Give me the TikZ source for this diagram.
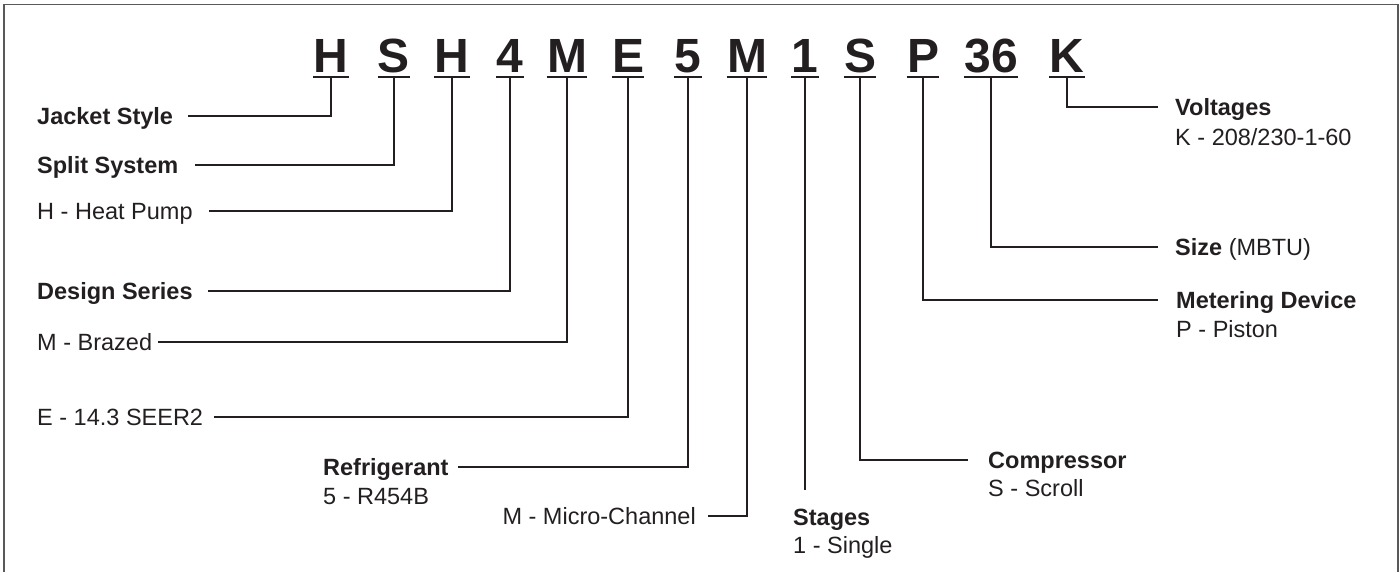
\documentclass[tikz,border=0pt]{standalone}
\usepackage{fontspec}
\setmainfont{Liberation Sans}
\usetikzlibrary{positioning,calc}
\definecolor{ink}{HTML}{231F20}
\tikzset{code/.style={font=\fontsize{48}{50}\selectfont\bfseries, text=ink, inner xsep=0pt, inner ysep=4pt, text depth=0pt, anchor=base}} % one position of the model number
\tikzset{title/.style={font=\fontsize{23.5}{28}\selectfont\bfseries, text=ink, inner sep=0pt, text height=16.8pt, text depth=0pt}} % bold heading
\tikzset{val/.style={title, font=\fontsize{23.5}{28}\selectfont}} % plain value line
\tikzset{lead/.style={draw=ink, line width=1.6pt}} % leader lines
\begin{document}
\begin{tikzpicture}[x=1pt, y=-1pt] % coordinates are pixels, y runs down
\useasboundingbox (0,0) rectangle (1400,572);
\draw[gray!70!black, line width=1.3pt] (4,580) -- (4,4.5) -- (1398,4.5) -- (1398,580); % frame, open at the bottom
% the model number
\foreach \x/\t/\n in {331/H/m1, 394/S/m2, 452/H/m3, 510/4/m4, 567/M/m5, 628/E/m6, 688/5/m7, 747/M/m8, 805/1/m9, 860/S/m10, 923/P/m11, 991/36/m12, 1067/K/m13}
  {\node[code] (\n) at (\x,73) {\t};
   \draw[lead] (\n.south west) -- (\n.south east);}
% labels on the left
\node[title, anchor=west] (jacket) at (37,116) {Jacket Style};
\node[title, anchor=west] (split) at (37,165) {Split System};
\node[val, anchor=west] (heat) at (37,211) {H - Heat Pump};
\node[title, anchor=west] (design) at (37,291) {Design Series};
\node[val, anchor=west] (brazed) at (37,342) {M - Brazed};
\node[val, anchor=west] (seer) at (37,417) {E - 14.3 SEER2};
\node[title, anchor=west] (refr) at (323,467) {Refrigerant};
\node[val, below right=12.2pt and 0pt of refr.south west] (refrval) {5 - R454B};
\node[val, anchor=east] (micro) at (696,516) {M - Micro-Channel};
\node[title, anchor=west] (stages) at (793,517) {Stages};
\node[val, below right=11.2pt and 0pt of stages.south west] (stagesval) {1 - Single};
% labels on the right
\node[title, anchor=west] (comp) at (988,460) {Compressor};
\node[val, below right=11.2pt and 0pt of comp.south west] (compval) {S - Scroll};
\node[title, anchor=west] (meter) at (1176,300) {Metering Device};
\node[val, below right=12.2pt and 0pt of meter.south west] (meterval) {P - Piston};
\node[title, anchor=west] (size) at (1175,247) {Size \mdseries(MBTU)};
\node[title, anchor=west] (volt) at (1175,107) {Voltages};
\node[val, below right=13.2pt and 0pt of volt.south west] (voltval) {K - 208/230-1-60};
% leaders
\draw[lead, shorten >=15pt] (m1.south) |- (jacket.east);
\draw[lead, shorten >=17pt] (m2.south) |- (split.east);
\draw[lead, shorten >=16pt] (m3.south) |- (heat.east);
\draw[lead, shorten >=15pt] (m4.south) |- (design.east);
\draw[lead, shorten >=6pt] (m5.south) |- (brazed.east);
\draw[lead, shorten >=11pt] (m6.south) |- (seer.east);
\draw[lead, shorten >=9pt] (m7.south) |- (refr.east);
\draw[lead, shorten >=12pt] (m8.south) |- (micro.east);
\draw[lead, shorten >=18pt] (m9.south) -- (m9.south |- stages.north);
\draw[lead, shorten >=20pt] (m10.south) |- (comp.west);
\draw[lead, shorten >=18pt] (m11.south) |- (meter.west);
\draw[lead, shorten >=17pt] (m12.south) |- (size.west);
\draw[lead, shorten >=17pt] (m13.south) |- (volt.west);
\end{tikzpicture}
\end{document}
